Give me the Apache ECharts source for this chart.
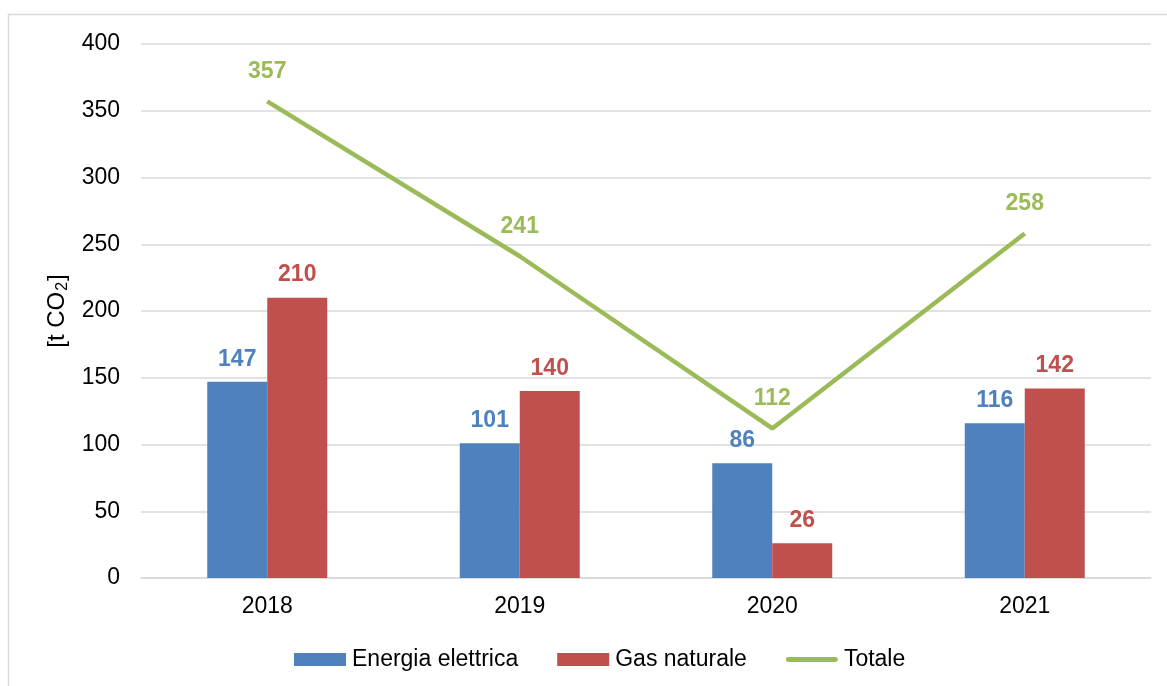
<!DOCTYPE html>
<html><head><meta charset="utf-8">
<script src="https://cdn.jsdelivr.net/npm/echarts@6/dist/echarts.min.js"></script>
<style>html,body{margin:0;padding:0;background:#fff}#c{width:1167px;height:686px}</style>
</head><body><div id="c"></div>
<script>
const categories = ['2018', '2019', '2020', '2021'];
const energia = [147, 101, 86, 116];
const gas = [210, 140, 26, 142];
const totale = [357, 241, 112, 258];
const yTicks = [0, 400, 50];

const font = 'Liberation Sans, Arial, sans-serif';
const lineIcon = 'path://M0,0 M54,13 M2.5,4 L51.5,4 A2.5,2.5 0 0 1 51.5,9 L2.5,9 A2.5,2.5 0 0 1 2.5,4 Z';
const chart = echarts.init(document.getElementById('c'));
chart.setOption({
  animation: false,
  graphic: [{
    type: 'rect', shape: { x: 8.5, y: 14.5, width: 1170, height: 700 },
    style: { fill: 'none', stroke: '#d9d9d9', lineWidth: 1.5 }, silent: true
  }],
  grid: { left: 141, right: 16, top: 44, bottom: 108 },
  legend: {
    top: 643, left: 289, itemWidth: 52, itemHeight: 13, itemGap: 39,
    textStyle: { fontFamily: font, fontSize: 23, color: '#000', padding: [0, 0, 0, 1] },
    data: [
      { name: 'Energia elettrica', icon: 'rect' },
      { name: 'Gas naturale', icon: 'rect' },
      { name: 'Totale', icon: lineIcon }
    ]
  },
  xAxis: {
    type: 'category', data: categories,
    axisLine: { lineStyle: { color: '#d9d9d9', width: 1.5 } },
    axisTick: { show: false },
    axisLabel: { fontFamily: font, fontSize: 23, color: '#000', margin: 17 }
  },
  yAxis: {
    type: 'value', min: yTicks[0], max: yTicks[1], interval: yTicks[2],
    name: '{a|[t CO}{s|2}{a|]}', nameLocation: 'middle', nameRotate: 90, nameGap: 65,
    nameTextStyle: {
      fontFamily: font, fontSize: 24, color: '#000',
      rich: {
        a: { fontFamily: font, fontSize: 24, color: '#000', lineHeight: 26 },
        s: { fontFamily: font, fontSize: 16, color: '#000', lineHeight: 8, verticalAlign: 'bottom', padding: [0, 1, 0, 1] }
      }
    },
    axisLine: { show: false }, axisTick: { show: false },
    axisLabel: { fontFamily: font, fontSize: 23, color: '#000', margin: 21 },
    splitLine: { lineStyle: { color: '#d9d9d9', width: 1.5 } }
  },
  series: [
    {
      name: 'Energia elettrica', type: 'bar', data: energia, barWidth: 60, barGap: '0%',
      itemStyle: { color: '#4f81bd' },
      label: { show: true, position: 'top', distance: 11, fontFamily: font, fontSize: 23, fontWeight: 'bold', color: '#4f81bd' }
    },
    {
      name: 'Gas naturale', type: 'bar', data: gas, barWidth: 60,
      itemStyle: { color: '#c0504d' },
      label: { show: true, position: 'top', distance: 11, fontFamily: font, fontSize: 23, fontWeight: 'bold', color: '#c0504d' }
    },
    {
      name: 'Totale', type: 'line', data: totale, symbol: 'circle', symbolSize: 0.1,
      lineStyle: { color: '#9bbb59', width: 4.5 }, itemStyle: { color: '#9bbb59' },
      label: { show: true, position: 'top', distance: 18, fontFamily: font, fontSize: 23, fontWeight: 'bold', color: '#9bbb59' }
    }
  ]
});
</script></body></html>
